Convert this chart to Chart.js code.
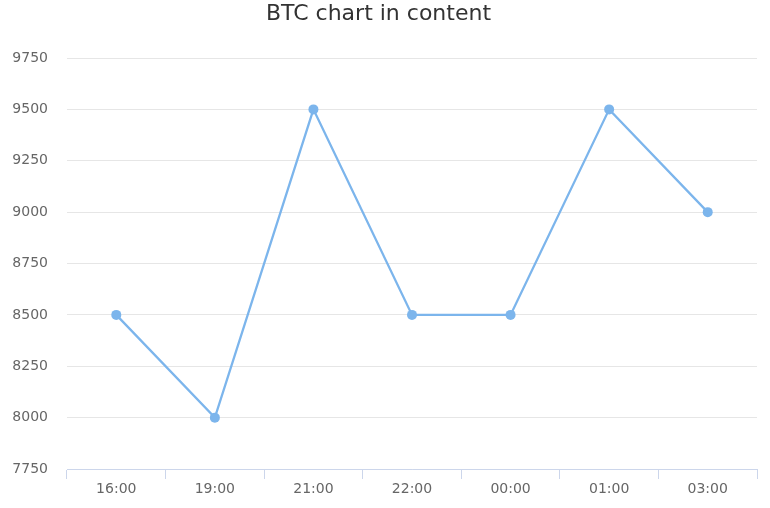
<!DOCTYPE html>
<html>
<head>
<meta charset="utf-8">
<script src="https://cdn.jsdelivr.net/npm/chart.js@4"></script>
<style>
  body { margin: 0; background: #ffffff; }
  #wrap { width: 770px; height: 508px; }
</style>
</head>
<body>
<div id="wrap"><canvas id="myChart"></canvas></div>
<script>
const hours = ["16:00", "19:00", "21:00", "22:00", "00:00", "01:00", "03:00"];
const prices = [8500, 8000, 9500, 8500, 8500, 9500, 9000];
const yMin = 7750;
const yMax = 9750;
const yStep = 250;

new Chart("myChart", {
  type: "line",
  data: {
    labels: hours,
    datasets: [
      {
        data: prices,
        borderColor: "#7cb5ec",
        backgroundColor: "#7cb5ec",
        borderWidth: 2.3,
        pointRadius: 5,
        pointBorderWidth: 0,
        tension: 0,
        fill: false,
      },
    ],
  },
  options: {
    responsive: true,
    maintainAspectRatio: false,
    animation: false,
    layout: { padding: { left: 0, right: 13, top: 0, bottom: 0 } },
    plugins: {
      legend: { display: false },
      tooltip: { enabled: false },
      title: {
        display: true,
        text: "BTC chart in content",
        color: "#333333",
        font: { family: "DejaVu Sans", size: 22, weight: "normal" },
        padding: { top: 1, bottom: 30.6 },
      },
    },
    scales: {
      x: {
        offset: true,
        grid: {
          offset: true,
          drawOnChartArea: false,
          drawTicks: true,
          tickLength: 10,
          color: "#ccd6eb",
        },
        border: { display: true, color: "#ccd6eb" },
        ticks: {
          color: "#666666",
          font: { family: "DejaVu Sans", size: 14 },
          padding: 2,
          maxRotation: 0,
        },
        afterFit: (scale) => {
          scale.height = 39;
        },
      },
      y: {
        min: yMin,
        max: yMax,
        grid: { color: "#e6e6e6", drawTicks: false },
        border: { display: false },
        ticks: {
          stepSize: yStep,
          color: "#666666",
          font: { family: "DejaVu Sans", size: 14 },
          padding: 19,
          callback: (value) => String(value),
        },
        afterFit: (scale) => {
          scale.width = 67;
        },
      },
    },
  },
});
</script>
</body>
</html>
